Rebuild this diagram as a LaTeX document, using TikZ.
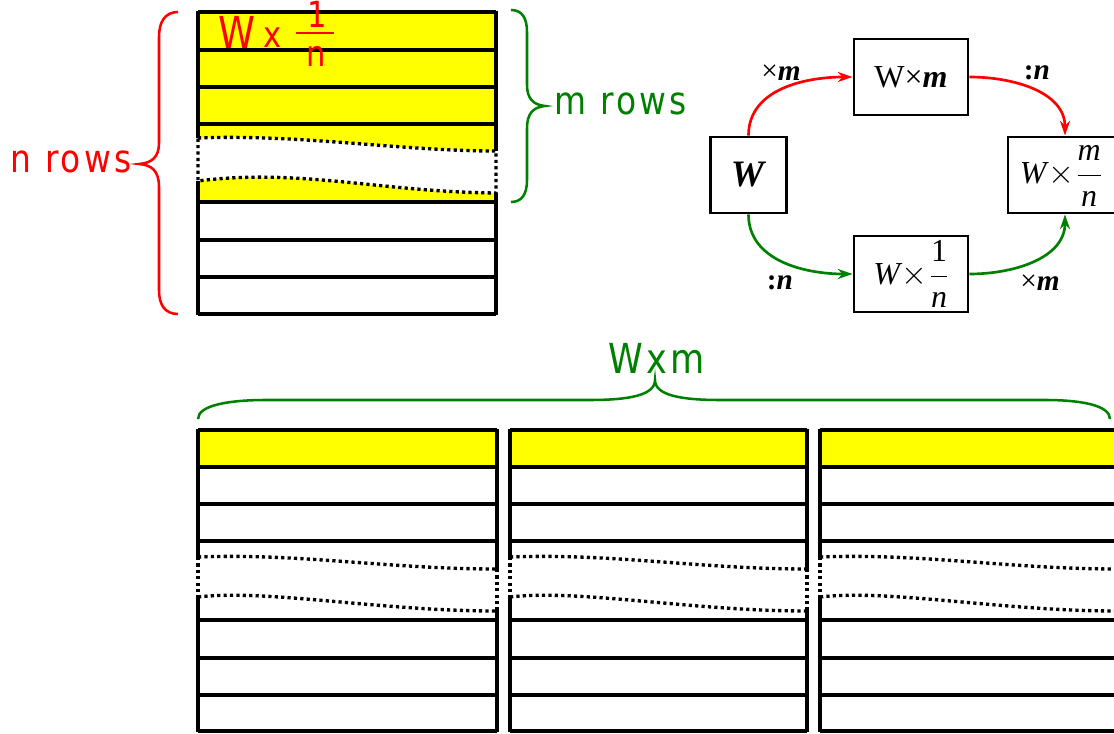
\documentclass[tikz,border=0pt]{standalone}
\usepackage{fontspec}
\setmainfont{Liberation Serif}
\newfontfamily\hand[FakeStretch=0.85,LetterSpace=8]{DejaVu Sans}
\usetikzlibrary{arrows.meta}
\definecolor{hlyellow}{RGB}{255,255,0}
\definecolor{dgreen}{RGB}{0,128,0}
\tikzset{
  rowline/.style={line width=2.3pt},
  dotline/.style={line width=2.5pt, dash pattern=on 2.4pt off 2.4pt},
  brace/.style={line width=1.9pt},
  box/.style={draw, line width=2.2pt, inner sep=0pt},
  conn/.style={line width=2pt, -{Stealth[length=11pt,width=7.5pt]}},
  lbl/.style={font=\fontsize{22}{24}\selectfont},
  handtxt/.style={font=\hand\fontsize{29}{32}\selectfont},
}
\begin{document}
\begin{tikzpicture}[x=0.75pt,y=-0.75pt]
\useasboundingbox (0,0) rectangle (1114,734);
% ---------- top-left matrix ----------
\fill[hlyellow] (198,12) rectangle (496,202);
\fill[white] (198,138) .. controls (300,134) and (400,151) .. (496,151) -- (496,193) .. controls (380,192) and (300,168) .. (198,181) -- cycle;
\draw[dotline] (198,138) .. controls (300,134) and (400,151) .. (496,151) -- (496,193) .. controls (380,192) and (300,168) .. (198,181) -- cycle;
\foreach \y in {12,50,87,124,202,240,277,314} \draw[rowline] (198,\y) -- (496,\y);
\draw[rowline] (198,11) -- (198,138) (198,181) -- (198,315);
\draw[rowline] (496,11) -- (496,151) (496,193) -- (496,315);
% label W x 1/n
\node[red, inner sep=0pt, font=\hand\fontsize{33}{34}\selectfont] (wl) at (237,32) {W};
\node[red, inner sep=0pt, font=\hand\fontsize{27}{28}\selectfont] (xl) at (273,38) {x};
\draw[red, line width=2pt] (296,33) -- (334,33);
\node[red, inner sep=0pt, font=\hand\fontsize{27}{28}\selectfont] (onel) at (317,14) {1};
\node[red, inner sep=0pt, font=\hand\fontsize{27}{28}\selectfont] (nl) at (316,56) {n};
% red brace n rows
\draw[red, brace] (178,12) .. controls (165,12) and (159,22) .. (159,37) -- (159,143) .. controls (159,157) and (152,163) .. (139,164) .. controls (152,165) and (159,171) .. (159,187) -- (159,290) .. controls (159,305) and (165,314) .. (178,314);
\node[red, handtxt, anchor=west] (nrows) at (6,162) {n rows};
% green brace m rows
\draw[dgreen, brace] (511,10) .. controls (522,10) and (527,18) .. (527,32) -- (527,85) .. controls (527,98) and (533,105) .. (545,106) .. controls (533,107) and (527,114) .. (527,128) -- (527,180) .. controls (527,194) and (522,202) .. (511,202);
\node[dgreen, handtxt, anchor=west] (mrows) at (550,104) {m rows};
% ---------- bottom matrices ----------
\foreach \a/\b in {198/497,510/807,820/1117}{
  \fill[hlyellow] (\a,430) rectangle (\b,467);
  \foreach \y in {430,467,504,541,620,658,695,731} \draw[rowline] (\a,\y) -- (\b,\y);
  \draw[rowline] (\a,429) -- (\a,557) (\a,597) -- (\a,732);
  \draw[rowline] (\b,429) -- (\b,569) (\b,611) -- (\b,732);
  \draw[dotline] (\a,557) .. controls ({\a+100},553) and ({\a+190},569) .. (\b,569);
  \draw[dotline] (\a,597) .. controls ({\a+70},589) and ({\a+180},611) .. (\b,611);
  \draw[dotline] (\a,557) -- (\a,597) (\b,569) -- (\b,611);
}
% green brace W x m
\draw[dgreen, brace] (198,419) .. controls (198,405) and (230,400) .. (266,400) -- (590,400) .. controls (630,400) and (655,395) .. (655,380) .. controls (655,395) and (680,400) .. (720,400) -- (1045,400) .. controls (1080,400) and (1110,405) .. (1110,419);
\node[dgreen, font=\hand\fontsize{31}{32}\selectfont] (wxm) at (657,358) {Wxm};
% ---------- right diagram ----------
\node[box, minimum width=57pt, minimum height=57pt] (w) at (748.5,175) {\fontsize{28}{30}\selectfont\textbf{\textit{W}}};
\node[box, minimum width=85.5pt, minimum height=57pt] (wm) at (911,77) {\fontsize{24}{26}\selectfont W×\textbf{\textit{m}}};
\node[box, minimum width=85.5pt, minimum height=57pt] (w1n) at (911,274) {\fontsize{24}{26}\selectfont $\displaystyle \mbox{\itshape W}\!\times\!\frac{\mbox{1}}{\mbox{\itshape n}}$};
\node[box, minimum width=85.5pt, minimum height=57pt] (wmn) at (1065,175) {};
\node (wmntxt) at (1061,176) {\fontsize{24}{26}\selectfont $\displaystyle \mbox{\itshape W}\!\times\!\frac{\mbox{\itshape m}}{\mbox{\itshape n}}$};
\draw[red, conn] (w.north) to[out=90,in=180] (wm.west);
\draw[red, conn] (wm.east) to[out=0,in=90] (wmn.north);
\draw[dgreen, conn] (w.south) to[out=-90,in=180] (w1n.west);
\draw[dgreen, conn] (w1n.east) to[out=0,in=-90] (wmn.south);
\node[lbl] (l1) at (781,73) {×\textbf{\textit{m}}};
\node[lbl] (l2) at (1037,73) {\textbf{:\textit{n}}};
\node[lbl] (l3) at (780,283) {\textbf{:\textit{n}}};
\node[lbl] (l4) at (1040,283) {×\textbf{\textit{m}}};
\end{tikzpicture}
\end{document}
